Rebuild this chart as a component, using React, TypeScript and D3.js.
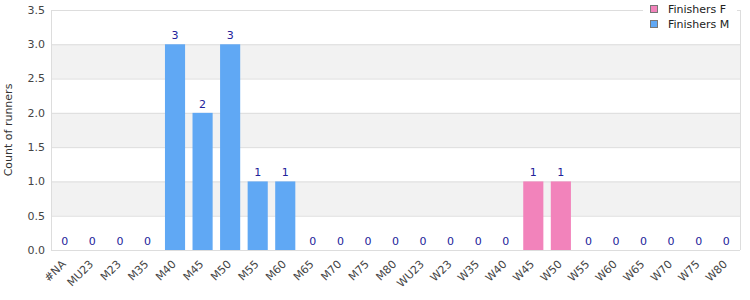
import React from "react";
import * as d3 from "d3";

const categories = ["#NA","MU23","M23","M35","M40","M45","M50","M55","M60","M65","M70","M75","M80","WU23","W23","W35","W40","W45","W50","W55","W60","W65","W70","W75","W80"];
const finishersM = [0,0,0,0,3,2,3,1,1,0,0,0,0,0,0,0,0,0,0,0,0,0,0,0,0];
const finishersF = [0,0,0,0,0,0,0,0,0,0,0,0,0,0,0,0,0,1,1,0,0,0,0,0,0];
const yTicks = [0,0.5,1,1.5,2,2.5,3,3.5];
const seriesNames = ["Finishers F","Finishers M"];

const W = 750, H = 300;
const left = 51, right = 740, top = 10, bottom = 250;
const colorF = "#f283bb";
const colorM = "#60a8f4";
const font = "DejaVu Sans, Verdana, sans-serif";

export default function App() {
  const x = d3.scaleBand<string>().domain(categories).range([left, right]).paddingInner(0.27).paddingOuter(0.135);
  const y = d3.scaleLinear().domain([0, 3.5]).range([bottom, top]);
  const bands: number[][] = [];
  for (let i = 0; i + 1 < yTicks.length; i++) if (i % 2 === 1) bands.push([yTicks[i], yTicks[i + 1]]);
  return (
    <svg width={W} height={H} style={{ position: "absolute", left: 0, top: 0 }} fontFamily={font}>
      <rect x={0} y={0} width={W} height={H} fill="#fff" />
      {bands.map(([a, b], i) => (
        <rect key={i} x={left} y={y(b)} width={right - left} height={y(a) - y(b)} fill="#f2f2f2" />
      ))}
      {yTicks.map((t) => (
        <line key={t} x1={left} x2={right} y1={y(t) + 0.5} y2={y(t) + 0.5} stroke="#dddddd" />
      ))}
      <line x1={left + 0.5} x2={left + 0.5} y1={top} y2={bottom} stroke="#dddddd" />
      <line x1={right + 0.5} x2={right + 0.5} y1={top} y2={bottom} stroke="#dddddd" />
      {yTicks.map((t) => (
        <text key={t} x={left - 6} y={y(t)} dy="0.35em" textAnchor="end" fontSize={11} fill="#444">
          {t.toFixed(1)}
        </text>
      ))}
      <text transform={`translate(8,${(top + bottom) / 2}) rotate(-90)`} textAnchor="middle" dy="0.35em" fontSize={11} fill="#333">
        Count of runners
      </text>
      {categories.map((c, i) => {
        const v = finishersM[i] + finishersF[i];
        const col = finishersF[i] > 0 ? colorF : colorM;
        const bx = x(c)!;
        return (
          <g key={c}>
            {v > 0 && <rect x={bx} y={y(v)} width={x.bandwidth()} height={bottom - y(v)} fill={col} />}
            <text x={bx + x.bandwidth() / 2} y={y(v) - 5} textAnchor="middle" fontSize={11} fill="#22229a">
              {v}
            </text>
            <text
              transform={`translate(${bx + x.bandwidth() / 2 - 1},${bottom + 12}) rotate(-45)`}
              textAnchor="end"
              dy="0.35em"
              fontSize={11}
              fill="#444"
            >
              {c}
            </text>
          </g>
        );
      })}
      <rect x={643} y={0} width={94} height={33} fill="#fff" />
      {seriesNames.map((n, i) => (
        <g key={n}>
          <rect x={650.5} y={5.5 + i * 15} width={7} height={7} fill={i === 0 ? colorF : colorM} stroke="#777" />
          <text x={668} y={9 + i * 15} dy="0.35em" fontSize={11} fill="#222">
            {n}
          </text>
        </g>
      ))}
    </svg>
  );
}
